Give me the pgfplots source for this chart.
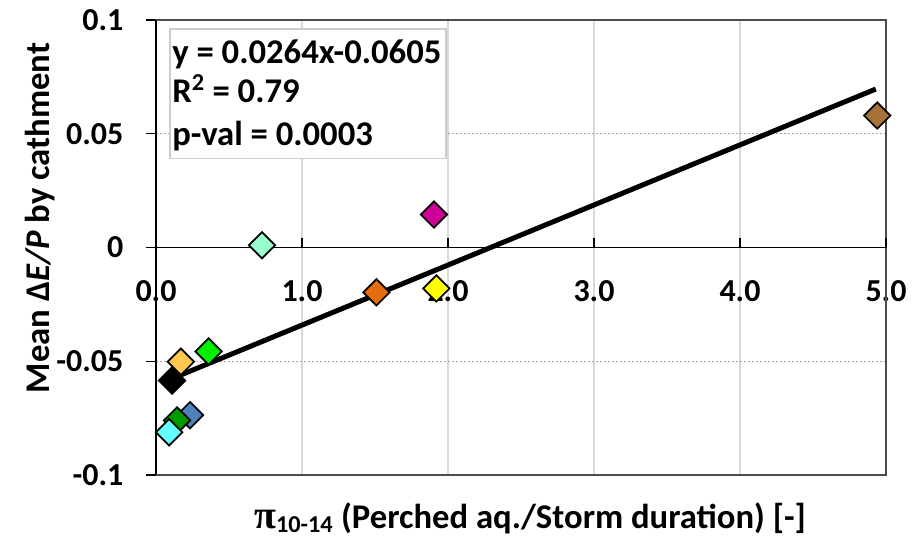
\documentclass[border=0pt]{standalone}
\usepackage{pgfplots}
\pgfplotsset{compat=1.18}
\usepackage{fontspec}
\setmainfont{Carlito}
\newfontfamily\symfont{Liberation Serif}
\definecolor{cMint}{RGB}{153,255,204}
\definecolor{cMag}{RGB}{204,0,153}
\definecolor{cOrange}{RGB}{228,108,10}
\definecolor{cYellow}{RGB}{255,255,0}
\definecolor{cBrown}{RGB}{166,114,56}
\definecolor{cGold}{RGB}{255,199,80}
\definecolor{cGreen}{RGB}{0,240,0}
\definecolor{cDGreen}{RGB}{0,153,0}
\definecolor{cBlue}{RGB}{79,129,189}
\definecolor{cCyan}{RGB}{102,255,255}
\pgfplotsset{
  dmark/.style={only marks, mark=square*, mark size=7pt,
    mark options={rotate=45, draw=black, line width=1.3pt, fill=#1}},
}
\begin{document}
\begin{tikzpicture}
\useasboundingbox (-117pt,-51.75pt) rectangle (567pt,356.25pt);
\begin{axis}[
  at={(0pt,0pt)}, anchor=south west,
  scale only axis, width=547.5pt, height=341.25pt,
  xmin=0, xmax=5, ymin=-0.1, ymax=0.1,
  axis x line=middle, axis y line=left,
  axis line style={-, black, line width=1.2pt},
  xtick={0,1,2,3,4,5},
  ytick={-0.1,-0.05,0,0.05,0.1},
  hide obscured x ticks=false, hide obscured y ticks=false,
  xtick align=inside, ytick align=outside,
  major tick length=7.5pt,
  tick style={black, line width=1pt},
  grid=major,
  x grid style={gray!30, line width=1pt},
  y grid style={gray!70, line width=1pt, dash pattern=on 1.5pt off 1.5pt},
  scaled x ticks=false, scaled y ticks=false,
  /pgf/number format/assume math mode=true,
  tick label style={font=\bfseries\fontsize{24}{28}\selectfont},
  x tick label style={/pgf/number format/.cd, fixed, fixed zerofill, precision=1, /tikz/.cd, yshift=-21pt},
  y tick label style={/pgf/number format/.cd, fixed, precision=2, /tikz/.cd, xshift=-13.5pt},
  clip=false,
]
\draw[gray!60!black, line width=1.5pt] (rel axis cs:0,0) -- (rel axis cs:1,0) -- (rel axis cs:1,1) -- (rel axis cs:0,1);
\draw[gray!40, fill=white, line width=1pt] (axis cs:0.096,0.039) rectangle (axis cs:1.986,0.0961);
\draw[black, line width=1.2pt] (axis cs:0,0) -- (axis cs:5,0);
\draw[black, line width=1pt] (axis cs:1,0) -- ++(0pt,7.5pt);
\draw[black, line width=1pt] (axis cs:2,0) -- ++(0pt,7.5pt);
\draw[black, line width=1pt] (axis cs:3,0) -- ++(0pt,7.5pt);
\draw[black, line width=1pt] (axis cs:4,0) -- ++(0pt,7.5pt);
\draw[black, line width=1pt] (axis cs:5,0) -- ++(0pt,7.5pt);
\addplot[dmark=cBlue] coordinates {(0.233,-0.0737)};
\addplot[dmark=cDGreen] coordinates {(0.144,-0.0760)};
\addplot[dmark=cCyan] coordinates {(0.090,-0.0812)};
\addplot[dmark=cGold] coordinates {(0.170,-0.0502)};
\addplot[dmark=black] coordinates {(0.110,-0.0585)};
\addplot[dmark=cGreen] coordinates {(0.360,-0.0457)};
\addplot[dmark=cMint] coordinates {(0.726,0.0010)};
\addplot[dmark=cMag] coordinates {(1.904,0.0145)};
\addplot[dmark=cOrange] coordinates {(1.510,-0.0197)};
\addplot[dmark=cYellow] coordinates {(1.920,-0.0180)};
\addplot[dmark=cBrown] coordinates {(4.940,0.0580)};
\addplot[black, line width=3.75pt, no marks] coordinates {(0.11,-0.0576) (4.93,0.06965)};
\node[anchor=base west, inner sep=0pt, font=\bfseries\fontsize{26}{31}\selectfont] at (axis cs:0.11,0.0811) {y = 0.0264x-0.0605};
\node[anchor=base west, inner sep=0pt, font=\bfseries\fontsize{26}{31}\selectfont] at (axis cs:0.11,0.0636) {R\textsuperscript{2} = 0.79};
\node[anchor=base west, inner sep=0pt, font=\bfseries\fontsize{26}{31}\selectfont] at (axis cs:0.11,0.0447) {p-val = 0.0003};
\end{axis}
\node[rotate=90, anchor=base, inner sep=0pt, font=\bfseries\fontsize{26}{31}\selectfont] at (-79.5pt,192.75pt) {Mean {\upshape Δ}\textit{E/P} by cathment};
\node[anchor=base, inner sep=0pt, font=\bfseries\fontsize{26}{31}\selectfont] at (280.5pt,-39.75pt) {{\symfont\bfseries\fontsize{30}{31}\selectfont π}\textsubscript{10-14} (Perched aq./Storm duration) [-]};
\end{tikzpicture}
\end{document}
